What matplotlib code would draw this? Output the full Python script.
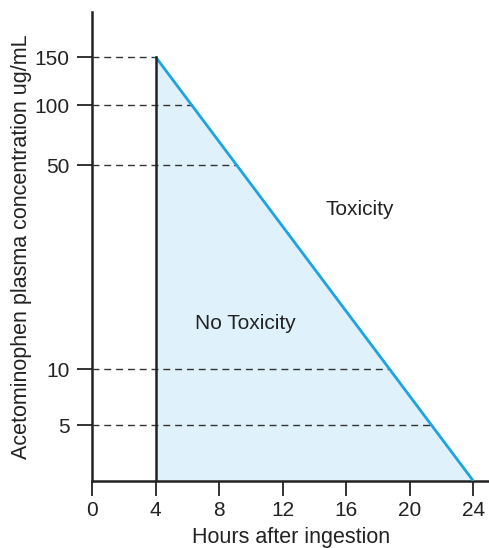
import numpy as np
import matplotlib.pyplot as plt

plt.rcParams['font.family'] = ['Liberation Sans', 'DejaVu Sans']

# nomogram data
hours_ticks = [0, 4, 8, 12, 16, 20, 24]
conc_levels = [5, 10, 50, 100, 150]
line_hours = [4, 24]
line_conc = [150, 2.5]
y_lo, y_hi = 2.5, 220

# the printed nomogram axis is log-like but unevenly spaced between labels
scale_vals = np.log10([y_lo, 5, 10, 50, 100, 150, y_hi])
scale_pos = np.array([0, 56, 112, 316, 376, 424, 469], dtype=float)


def fwd(v):
    v = np.asarray(v, dtype=float)
    return np.interp(np.log10(np.clip(v, 1e-6, None)), scale_vals, scale_pos,
                     left=-1e3, right=1e3)


def inv(p):
    return 10 ** np.interp(np.asarray(p, dtype=float), scale_pos, scale_vals)


fig = plt.figure(figsize=(4.892, 5.482), dpi=100)
ax = fig.add_axes([0.188, 0.1223, 0.812, 0.8558])
ax.set_yscale('function', functions=(fwd, inv))
ax.set_xlim(0, 25)
ax.set_ylim(y_lo, y_hi)

# shaded "no toxicity" region under the treatment line
ax.fill_between(line_hours, line_conc, y_lo, color='#dff1fb', lw=0, zorder=1)
ax.plot(line_hours, line_conc, color='#1ba4dd', lw=2, zorder=4,
        solid_capstyle='butt')
ax.plot([4, 4], [y_lo, 150], color='#222222', lw=1.8, zorder=4)

# dashed guides from the y axis to the line
p0, p1 = fwd(line_conc[0]), fwd(line_conc[1])
for c in conc_levels:
    xc = line_hours[0] + (fwd(c) - p0) / (p1 - p0) * (line_hours[1] - line_hours[0])
    ax.plot([0, xc], [c, c], color='#333333', lw=1, dashes=(5, 3.5), zorder=3)

for s in ['top', 'right']:
    ax.spines[s].set_visible(False)
for s in ['left', 'bottom']:
    ax.spines[s].set_linewidth(1.8)
    ax.spines[s].set_color('#222222')

ax.set_xlabel('Hours after ingestion', fontsize=15.5, labelpad=5, color='#222222')
ax.set_ylabel('Acetominophen plasma concentration ug/mL', fontsize=15.5,
              labelpad=2, color='#222222')

ax.text(0.675, 0.578, 'Toxicity', transform=ax.transAxes, fontsize=15,
        ha='center', va='center', color='#222222')
ax.text(0.387, 0.337, 'No Toxicity', transform=ax.transAxes, fontsize=15,
        ha='center', va='center', color='#222222')

ax.set_xticks(hours_ticks)
ax.set_yticks(conc_levels)
ax.set_yticklabels([str(c) for c in conc_levels])
ax.minorticks_off()
ax.tick_params(which='major', direction='out', length=11, width=1.4,
               color='#333333', labelsize=15, labelcolor='#222222')
ax.tick_params(axis='y', pad=5)
ax.tick_params(axis='x', pad=3)

fig.savefig('out.png', dpi=100)
